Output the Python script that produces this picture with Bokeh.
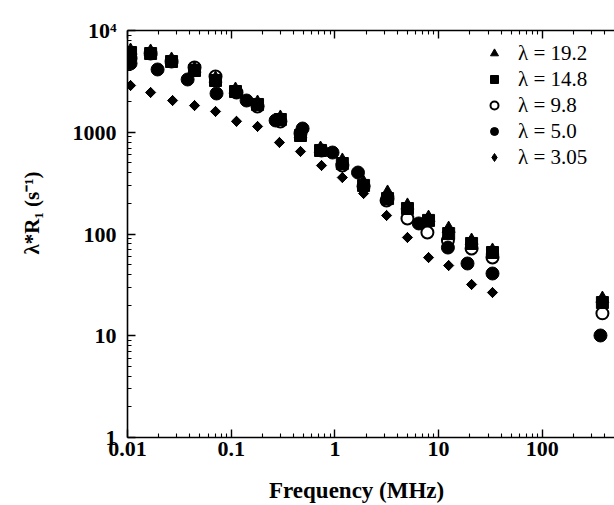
from bokeh.plotting import figure
from bokeh.models import FixedTicker, LogAxis, Legend, LegendItem
from bokeh.embed import file_html
from bokeh.resources import INLINE

# ---- data -----------------------------------------------------------------
x_ticks = [0.01, 0.1, 1, 10, 100]
x_tick_labels = ["0.01", "0.1", "1", "10", "100"]
y_ticks = [1, 10, 100, 1000, 10000]
y_tick_labels = ["1", "10", "100", "1000", "10\u2074"]

series_labels = ["\u03bb = 19.2", "\u03bb = 14.8", "\u03bb = 9.8", "\u03bb = 5.0", "\u03bb = 3.05"]

# lambda = 19.2 (triangles)
f_192 = [0.0107, 0.0167, 0.0266, 0.0443, 0.0706, 0.110, 0.1795, 0.298, 0.466, 0.727,
         1.18, 1.89, 3.22, 5.01, 8.0, 12.5, 20.8, 33.1, 380]
r_192 = [6360, 6220, 5190, 4232, 3376, 2631, 1960, 1397, 955, 692,
         528, 321, 256, 191, 145, 113, 86.3, 68.9, 23.2]

# lambda = 14.8 (squares)
f_148 = [0.0107, 0.0167, 0.0266, 0.0443, 0.0706, 0.110, 0.1795, 0.298, 0.466, 0.727,
         1.18, 1.89, 3.22, 5.01, 8.0, 12.5, 20.8, 33.1, 380]
r_148 = [6080, 5940, 4960, 4045, 3226, 2513, 1875, 1334, 929, 662,
         493, 300, 223, 178, 136, 101, 80.7, 65.8, 21.2]

# lambda = 9.8 (open circles)
f_98 = [0.0107, 0.0167, 0.0266, 0.0443, 0.0706, 0.1125, 0.1795, 0.298, 0.466, 0.743,
        1.18, 1.89, 3.15, 5.01, 7.8, 12.3, 20.8, 33.1, 380]
r_98 = [5309, 5940, 4960, 4328, 3533, 2459, 1791, 1276, 973, 662,
        471, 293, 213, 142, 103.5, 86.3, 71.9, 58.7, 16.6]

# lambda = 5.0 (filled circles)
f_50 = [0.0107, 0.0195, 0.0380, 0.0722, 0.1407, 0.268, 0.488, 0.949, 1.67, 3.22,
        6.44, 12.3, 19.0, 33.1, 364]
r_50 = [4740, 4139, 3300, 2404, 2051, 1305, 1088, 632, 402, 223,
        127, 73.6, 51.3, 40.9, 10.06]

# lambda = 3.05 (diamonds)
f_305 = [0.0107, 0.0167, 0.0272, 0.0443, 0.0706, 0.1125, 0.1795, 0.292, 0.466, 0.743,
         1.18, 1.89, 3.15, 5.01, 8.0, 12.5, 20.8, 33.1]
r_305 = [2880, 2460, 2050, 1830, 1600, 1280, 1140, 793, 647, 471,
         359, 250, 152, 92.4, 58.7, 49.0, 31.9, 26.6]

# ---- figure ---------------------------------------------------------------
FONT = "Liberation Serif"
NB = "\u00a0"

p = figure(width=614, height=505, x_axis_type="log", y_axis_type="log",
           x_range=(0.01, 497), y_range=(1, 10000),
           output_backend="svg", toolbar_location=None,
           min_border_left=127, min_border_right=0,
           min_border_top=30, min_border_bottom=68)
p.outline_line_color = None
p.grid.visible = False
p.background_fill_color = "white"
p.border_fill_color = "white"

x_minor = [m * d for d in x_ticks for m in range(2, 10)]
y_minor = [m * d for d in y_ticks[:-1] for m in range(2, 10)]


def style_axis(ax):
    ax.axis_line_color = "black"
    ax.axis_line_width = 1.6
    ax.major_tick_in = 8
    ax.major_tick_out = 0
    ax.minor_tick_in = 4
    ax.minor_tick_out = 0
    ax.major_tick_line_color = "black"
    ax.minor_tick_line_color = "black"
    ax.major_tick_line_width = 1.4
    ax.minor_tick_line_width = 1.1
    ax.major_label_text_font = FONT
    ax.major_label_text_font_style = "bold"
    ax.major_label_text_font_size = "22px"
    ax.major_label_text_color = "black"


xa = p.xaxis[0]
xa.ticker = FixedTicker(ticks=x_ticks, minor_ticks=x_minor)
xa.major_label_overrides = {t: s for t, s in zip(x_ticks, x_tick_labels)}
style_axis(xa)
xa.major_label_standoff = 4
xa.axis_label = "Frequency (MHz)" + NB * 5
xa.axis_label_text_font = FONT
xa.axis_label_text_font_style = "bold"
xa.axis_label_text_font_size = "23px"
xa.axis_label_standoff = 19
xa.axis_label_text_color = "black"

ya = p.yaxis[0]
ya.ticker = FixedTicker(ticks=y_ticks, minor_ticks=y_minor)
ya.major_label_overrides = {t: s for t, s in zip(y_ticks, y_tick_labels)}
style_axis(ya)
ya.major_label_standoff = 11
ya.axis_label = NB * 8 + "\u03bb*R\u2081 (s\u207b\u00b9)"
ya.axis_label_text_font = FONT
ya.axis_label_text_font_style = "bold"
ya.axis_label_text_font_size = "21px"
ya.axis_label_standoff = 26
ya.axis_label_text_color = "black"

top = LogAxis(ticker=FixedTicker(ticks=x_ticks, minor_ticks=x_minor))
style_axis(top)
top.major_label_text_font_size = "1px"
top.major_label_text_color = None
top.major_label_standoff = 0
p.add_layout(top, "above")

# ---- markers --------------------------------------------------------------
# legend key for the diamond symbol (hidden beneath the plotted diamonds)
r_dia_key = p.scatter(f_305, r_305, marker="diamond", size=10,
                      fill_color="black", line_color="black")
r_open = p.scatter(f_98, r_98, marker="circle", size=12, fill_color="white",
                   line_color="black", line_width=2)
r_tri = p.scatter(f_192, r_192, marker="triangle", size=13, fill_color="black",
                  line_color="black")
r_sq = p.scatter(f_148, r_148, marker="square", size=12, fill_color="black",
                 line_color="black")
r_circ = p.scatter(f_50, r_50, marker="circle", size=13, fill_color="black",
                   line_color="black")
r_dia = p.scatter(f_305, r_305, marker="square", size=7.2, angle=0.785398,
                  fill_color="black", line_color="black")

renderers = [r_tri, r_sq, r_open, r_circ, r_dia_key]
legend = Legend(items=[LegendItem(label=l, renderers=[r]) for l, r in zip(series_labels, renderers)],
                location=(357, 267), orientation="vertical",
                padding=0, margin=0, spacing=0,
                glyph_width=20, glyph_height=26, label_height=26,
                label_standoff=14,
                label_text_font=FONT, label_text_font_size="21px",
                label_text_color="black",
                border_line_color=None, background_fill_alpha=0)
p.add_layout(legend, "center")

open("out.html", "w").write(file_html(p, INLINE))
